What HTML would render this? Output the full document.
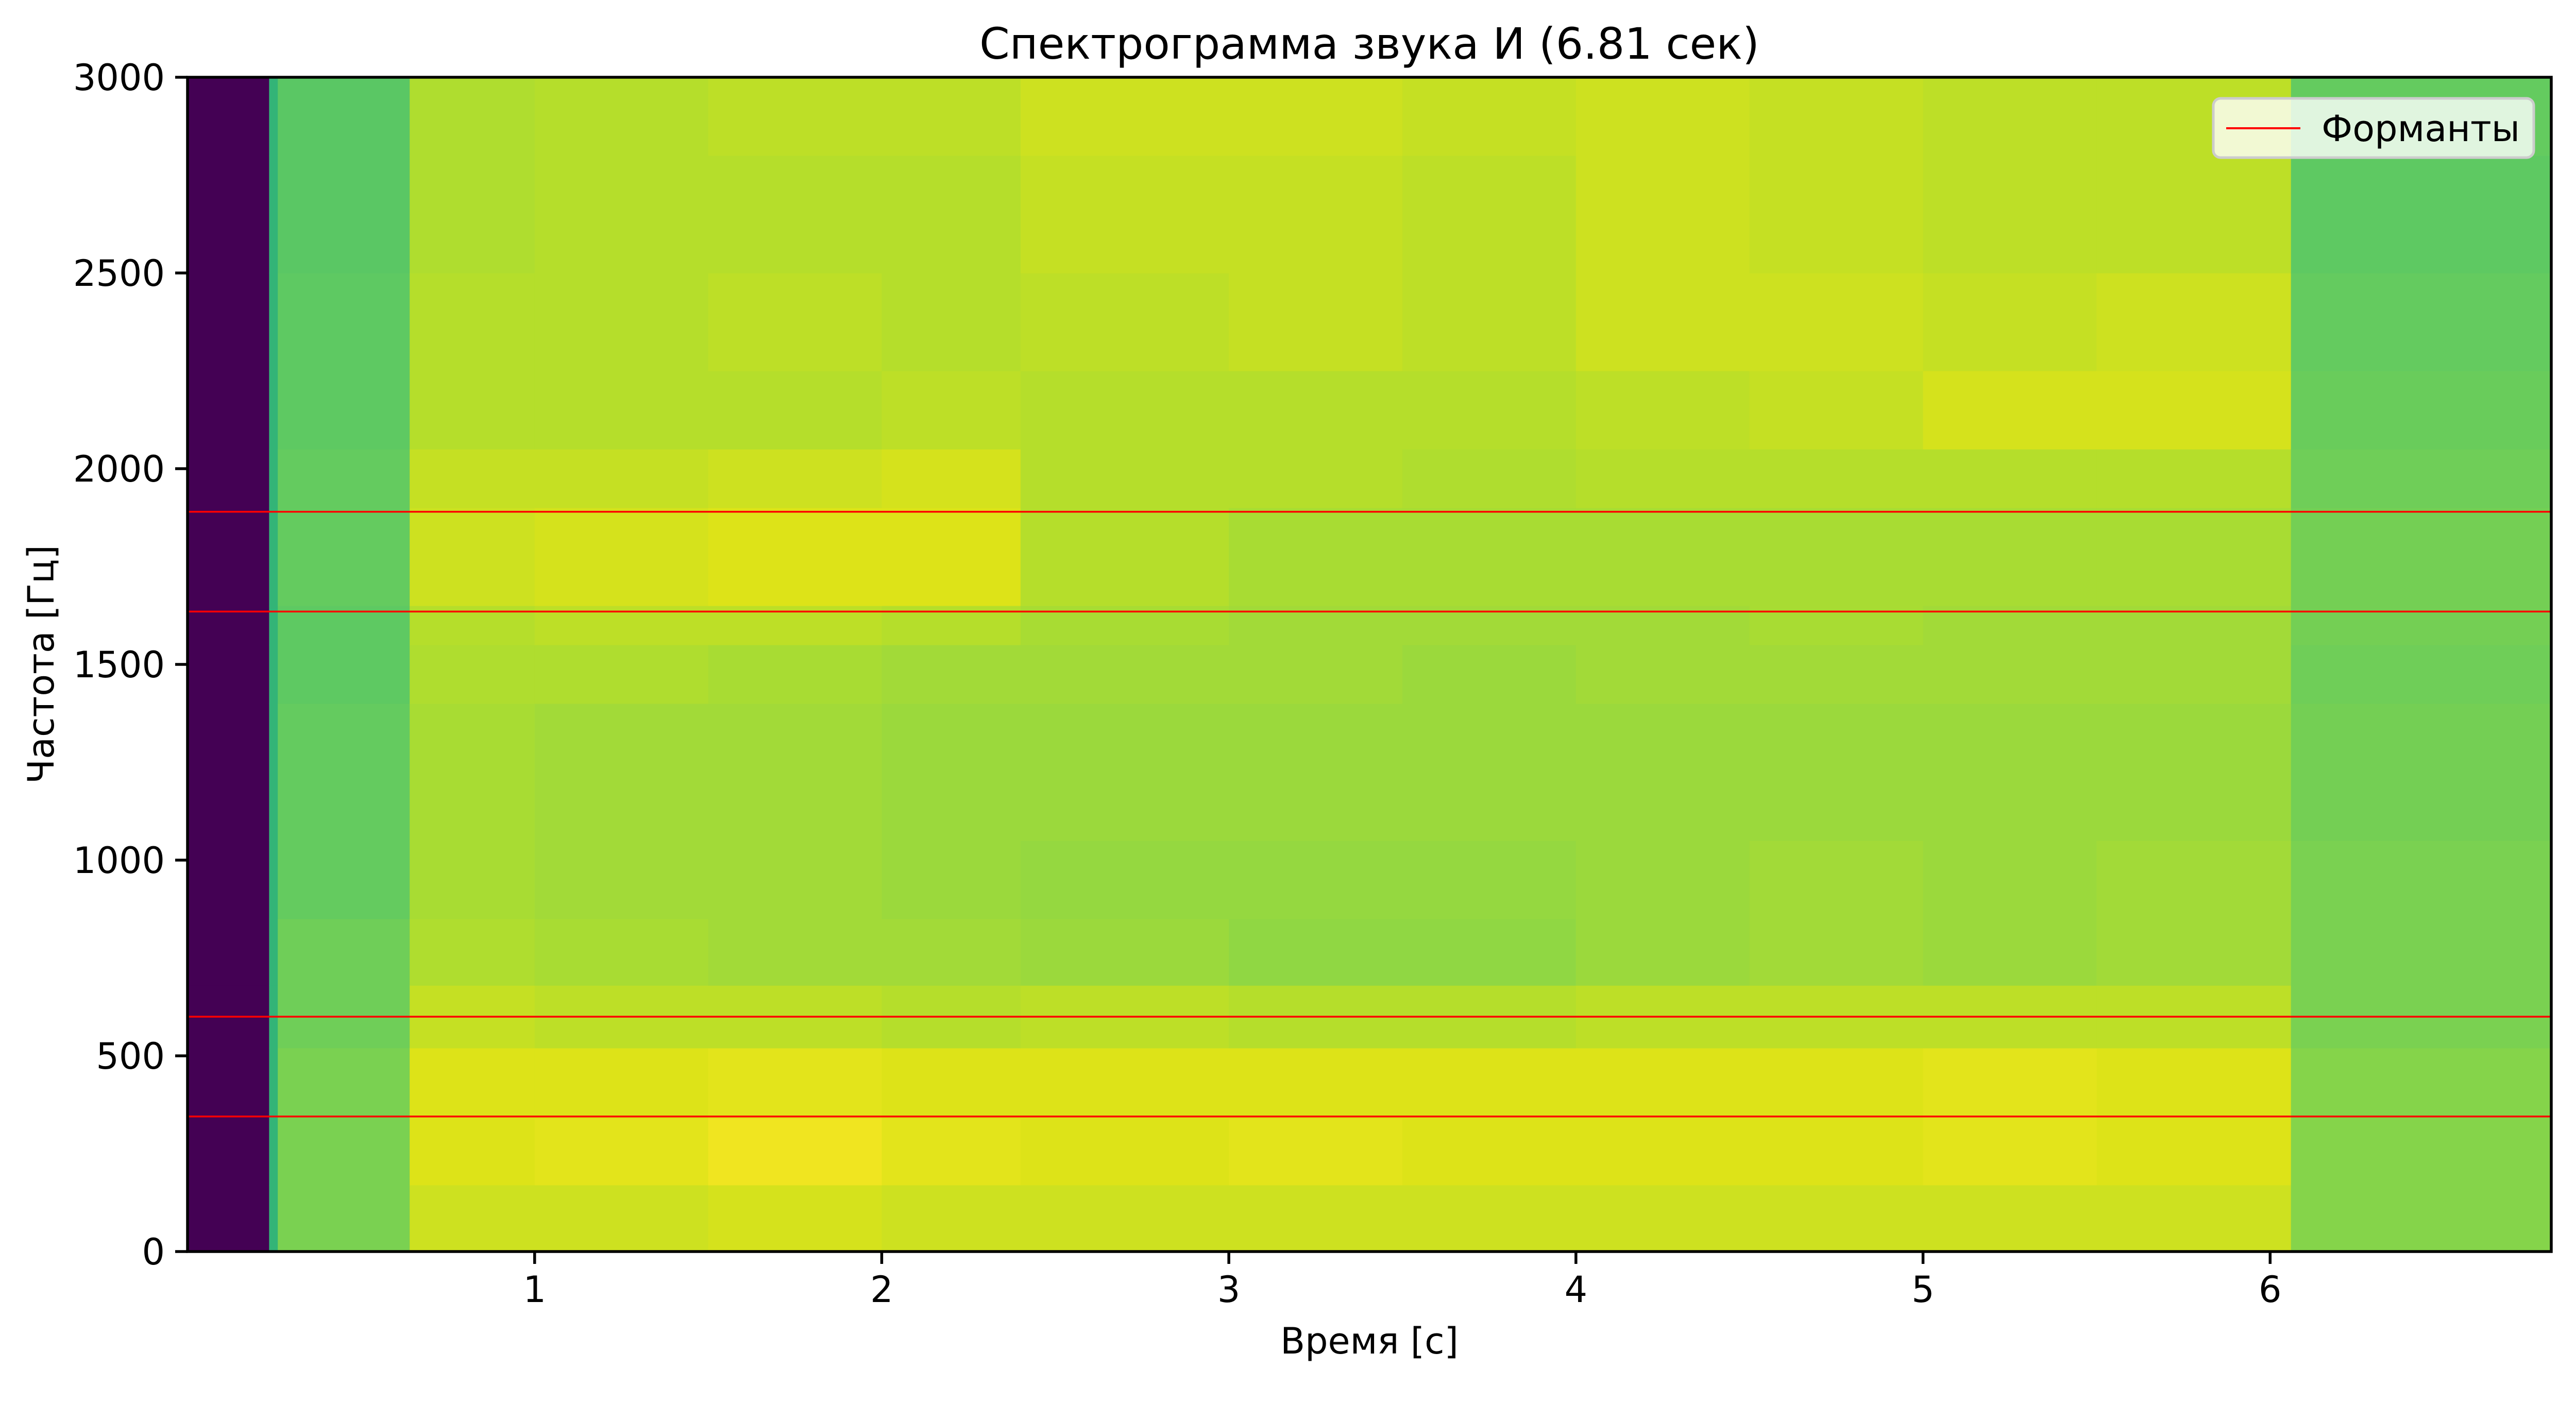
<!DOCTYPE html>
<html><head><meta charset="utf-8"><style>
html,body{margin:0;padding:0;background:#fff;}
svg{display:block;font-family:"DejaVu Sans","Liberation Sans",sans-serif;}
</style></head><body>
<svg id="chart" width="5070" height="2726" viewBox="0 0 5070 2726" xmlns="http://www.w3.org/2000/svg">
<rect width="5070" height="2726" fill="#fff"/>
<g id="cells"></g>
<g id="formants"></g>
<rect x="364" y="150" width="4588" height="2280" fill="none" stroke="#000" stroke-width="5.5"/>
<g id="xticks"></g>
<g id="yticks"></g>
<text x="2658" y="114" font-size="84" text-anchor="middle">Спектрограмма звука И (6.81 сек)</text>
<text x="2658" y="2628" font-size="70" text-anchor="middle">Время [с]</text>
<text transform="translate(104,1290) rotate(-90)" font-size="70" text-anchor="middle">Частота [Гц]</text>
<g>
<rect x="4296" y="191" width="622" height="115" rx="14" fill="#fff" fill-opacity="0.8" stroke="#ccc" stroke-width="5"/>
<line x1="4321" y1="249" x2="4465" y2="249" stroke="#ff0000" stroke-width="4"/>
<text x="4506" y="274" font-size="70">Форманты</text>
</g>
</svg>
<script>
const timeEdges = [0,0.235,0.26,0.64,1.0,1.5,2.0,2.4,3.0,3.5,4.0,4.5,5.0,5.5,6.06,6.81];
const freqEdges = [0,170,340,520,680,850,1050,1400,1550,1650,1900,2050,2250,2500,2800,3000];
const intensity = [
[0,0,0,0,0,0,0,0,0,0,0,0,0,0,0],
[0.65,0.65,0.65,0.65,0.65,0.65,0.65,0.65,0.65,0.65,0.65,0.65,0.65,0.65,0.65],
[0.8,0.8,0.8,0.78,0.78,0.76,0.76,0.75,0.75,0.76,0.76,0.75,0.75,0.74,0.74],
[0.93,0.95,0.95,0.92,0.89,0.88,0.88,0.89,0.9,0.93,0.92,0.9,0.9,0.89,0.89],
[0.93,0.96,0.95,0.91,0.88,0.87,0.87,0.89,0.91,0.94,0.92,0.9,0.9,0.9,0.9],
[0.94,0.98,0.96,0.91,0.87,0.87,0.87,0.88,0.91,0.95,0.93,0.9,0.91,0.9,0.91],
[0.93,0.96,0.95,0.9,0.87,0.86,0.86,0.87,0.9,0.95,0.94,0.91,0.9,0.9,0.91],
[0.93,0.95,0.95,0.91,0.86,0.85,0.86,0.87,0.88,0.9,0.9,0.9,0.91,0.92,0.93],
[0.93,0.96,0.95,0.9,0.84,0.85,0.86,0.87,0.87,0.88,0.9,0.9,0.92,0.92,0.93],
[0.93,0.95,0.95,0.9,0.84,0.85,0.86,0.86,0.87,0.88,0.89,0.9,0.91,0.91,0.92],
[0.93,0.95,0.95,0.91,0.86,0.86,0.86,0.87,0.87,0.88,0.9,0.91,0.93,0.93,0.93],
[0.93,0.95,0.95,0.91,0.87,0.87,0.86,0.87,0.88,0.88,0.9,0.92,0.93,0.92,0.92],
[0.93,0.96,0.96,0.91,0.86,0.86,0.86,0.87,0.87,0.88,0.9,0.94,0.92,0.91,0.91],
[0.93,0.95,0.95,0.91,0.87,0.87,0.86,0.87,0.87,0.88,0.9,0.94,0.93,0.91,0.91],
[0.82,0.82,0.82,0.8,0.8,0.8,0.79,0.78,0.79,0.79,0.78,0.77,0.76,0.75,0.76]
];
const formants = [345,600,1635,1890];
const xTicks = [1,2,3,4,5,6];
const yTicks = [0,500,1000,1500,2000,2500,3000];

const X0=364, X1=4952, Y0=2430, Y1=150, TMAX=6.81, FMAX=3000;
const sx = t => X0 + t/TMAX*(X1-X0);
const sy = f => Y0 - f/FMAX*(Y0-Y1);
const NS='http://www.w3.org/2000/svg';
const vir=[[0,[68,1,84]],[0.25,[59,82,139]],[0.5,[33,145,140]],[0.6,[30,170,130]],[0.75,[94,201,98]],[0.8,[122,209,81]],[0.85,[149,216,64]],[0.9,[181,222,43]],[0.95,[221,227,24]],[1,[253,231,37]]];
function cmap(v){for(let i=1;i<vir.length;i++){if(v<=vir[i][0]){const a=vir[i-1],b=vir[i];const k=(v-a[0])/(b[0]-a[0]);return 'rgb('+a[1].map((c,j)=>Math.round(c+(b[1][j]-c)*k)).join(',')+')';}}return 'rgb(253,231,37)';}
const cells=document.getElementById('cells');
intensity.forEach((col,i)=>{col.forEach((v,j)=>{
 const r=document.createElementNS(NS,'rect');
 const x=sx(timeEdges[i]), x2=sx(timeEdges[i+1]), y=sy(freqEdges[j+1]), y2=sy(freqEdges[j]);
 r.setAttribute('x',x);r.setAttribute('y',y);r.setAttribute('width',x2-x+0.6);r.setAttribute('height',y2-y+0.6);
 r.setAttribute('fill',cmap(v));
 
 
 cells.appendChild(r);});});
const fg=document.getElementById('formants');
formants.forEach(f=>{const l=document.createElementNS(NS,'line');
 l.setAttribute('x1',X0);l.setAttribute('x2',X1);l.setAttribute('y1',sy(f));l.setAttribute('y2',sy(f));
 l.setAttribute('stroke','#ff0000');l.setAttribute('stroke-width','3.5');
 
 
 fg.appendChild(l);});
const xg=document.getElementById('xticks');
xTicks.forEach(t=>{const x=sx(t);
 const l=document.createElementNS(NS,'line');l.setAttribute('x1',x);l.setAttribute('x2',x);l.setAttribute('y1',Y0);l.setAttribute('y2',Y0+24);l.setAttribute('stroke','#000');l.setAttribute('stroke-width','5.5');
 
 
 xg.appendChild(l);
 const tx=document.createElementNS(NS,'text');tx.setAttribute('x',x);tx.setAttribute('y',Y0+98);tx.setAttribute('font-size','70');tx.setAttribute('text-anchor','middle');tx.textContent=t;
 
 
 xg.appendChild(tx);});
const yg=document.getElementById('yticks');
yTicks.forEach(f=>{const y=sy(f);
 const l=document.createElementNS(NS,'line');l.setAttribute('x1',X0-24);l.setAttribute('x2',X0);l.setAttribute('y1',y);l.setAttribute('y2',y);l.setAttribute('stroke','#000');l.setAttribute('stroke-width','5.5');
 
 
 yg.appendChild(l);
 const tx=document.createElementNS(NS,'text');tx.setAttribute('x',X0-44);tx.setAttribute('y',y+25);tx.setAttribute('font-size','70');tx.setAttribute('text-anchor','end');tx.textContent=f;
 
 
 yg.appendChild(tx);});
</script>
</body></html>
